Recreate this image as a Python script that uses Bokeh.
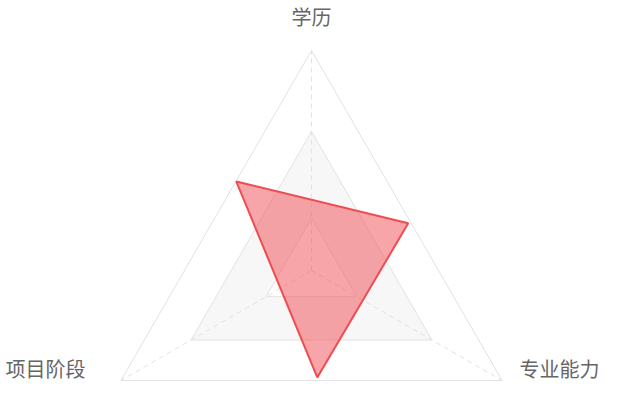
import math
from bokeh.plotting import figure
from bokeh.models import Range1d
from bokeh.core.properties import value
from bokeh.embed import file_html
from bokeh.resources import INLINE

# ---- data ----
axis_names = ["学历", "专业能力", "项目阶段"]
grid_levels = [0.238, 0.632, 1.0]
series_values = [0.530, 0.489, 0.487]
series_angles = [130.2, 26.0, -86.9]  # degrees

# ---- styles ----
GRID_COLOR = "#e2e2e2"
BAND_COLOR = "#f7f7f7"
RED = "#f04b51"
TEXT_COLOR = "#666666"
FONT = "Noto Sans CJK SC"

n = len(axis_names)
axis_angles = [math.radians(90 - i * 360.0 / n) for i in range(n)]


def ring(r):
    return ([r * math.cos(a) for a in axis_angles], [r * math.sin(a) for a in axis_angles])


X0, X1 = -1.41364, 1.33636
Y0, Y1 = -0.52273, 1.22727

p = figure(width=605, height=385, output_backend="svg", toolbar_location=None,
           x_range=Range1d(X0, X1), y_range=Range1d(Y0, Y1),
           min_border=0, min_border_left=0, min_border_right=0,
           min_border_top=0, min_border_bottom=0)
p.axis.visible = False
p.xgrid.visible = False
p.ygrid.visible = False
p.outline_line_color = None
p.background_fill_color = "white"
p.border_fill_color = "white"

# alternate band fill (between first and second ring)
mx, my = ring(grid_levels[1])
p.patch(mx, my, fill_color=BAND_COLOR, line_color=None)
ix, iy = ring(grid_levels[0])
p.patch(ix, iy, fill_color="white", line_color=None)

# grid rings
for r in grid_levels:
    xs, ys = ring(r)
    p.patch(xs, ys, fill_color=None, line_color=GRID_COLOR, line_width=1)

# dashed axes
for a in axis_angles:
    p.line([0, math.cos(a)], [0, math.sin(a)], line_color=GRID_COLOR, line_width=1,
           line_dash="5 4")

# data polygon
dx = [v * math.cos(math.radians(t)) for v, t in zip(series_values, series_angles)]
dy = [v * math.sin(math.radians(t)) for v, t in zip(series_values, series_angles)]
p.patch(dx, dy, fill_color=RED, fill_alpha=0.5, line_color=RED, line_width=2)

# labels
p.text(x=[0], y=[1.15455], text=[axis_names[0]], text_align="center", text_baseline="middle",
       text_font=value(FONT), text_font_size="20px", text_color=TEXT_COLOR)
p.text(x=[1.30909], y=[-0.44545], text=[axis_names[1]], text_align="right", text_baseline="middle",
       text_font=value(FONT), text_font_size="20px", text_color=TEXT_COLOR)
p.text(x=[-1.39091], y=[-0.44545], text=[axis_names[2]], text_align="left", text_baseline="middle",
       text_font=value(FONT), text_font_size="20px", text_color=TEXT_COLOR)

open("out.html", "w").write(file_html(p, INLINE))
